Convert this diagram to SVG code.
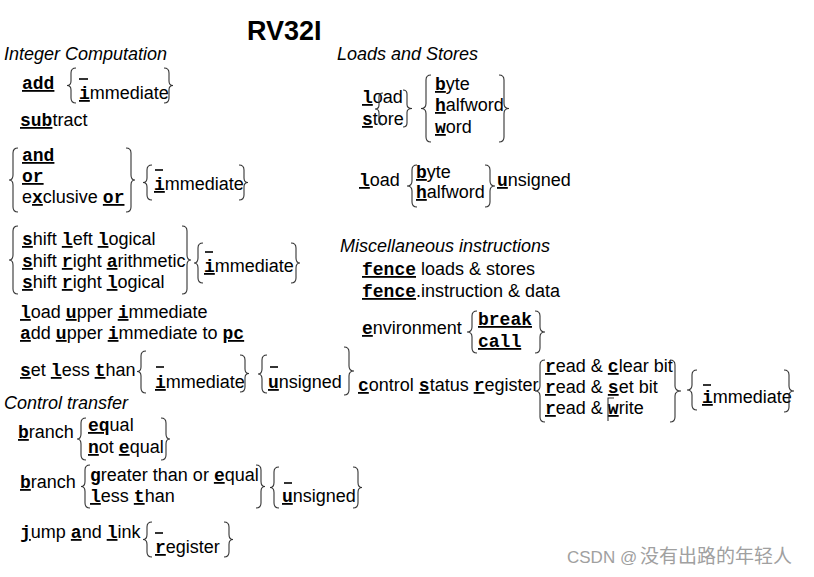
<svg xmlns="http://www.w3.org/2000/svg" width="814" height="577" viewBox="0 0 814 577">
<style>
text{font-family:"Liberation Sans",Arial,sans-serif;font-size:18px;fill:#000}
.it{font-style:italic}
.m{font-family:"Liberation Mono","Courier New",monospace;font-weight:bold}
.u{text-decoration:underline}
.title{font-weight:bold;font-size:27px}
.br{fill:none;stroke:#333;stroke-width:1.1}
.dash{stroke:#000;stroke-width:1.6}
.wm{fill:#a0a0a0}
</style>
<rect width="814" height="577" fill="#fff"/>
<text id="title" class="title" x="247" y="40">RV32I</text>

<g id="integer">
<text class="it" x="4" y="60">Integer Computation</text>
<text x="22" y="89"><tspan class="m u">add</tspan></text>
<text x="79" y="99"><tspan class="m u">i</tspan>mmediate</text>
<text x="20" y="126"><tspan class="m u">sub</tspan>tract</text>
<text x="22" y="161"><tspan class="m u">and</tspan></text>
<text x="22" y="182"><tspan class="m u">or</tspan></text>
<text x="22" y="203">e<tspan class="m u">x</tspan>clusive <tspan class="m u">or</tspan></text>
<text x="154" y="190"><tspan class="m u">i</tspan>mmediate</text>
<text x="22" y="245"><tspan class="m u">s</tspan>hift <tspan class="m u">l</tspan>eft <tspan class="m u">l</tspan>ogical</text>
<text x="22" y="267"><tspan class="m u">s</tspan>hift <tspan class="m u">r</tspan>ight <tspan class="m u">a</tspan>rithmetic</text>
<text x="22" y="288"><tspan class="m u">s</tspan>hift <tspan class="m u">r</tspan>ight <tspan class="m u">l</tspan>ogical</text>
<text x="204" y="272"><tspan class="m u">i</tspan>mmediate</text>
<text x="20" y="318"><tspan class="m u">l</tspan>oad <tspan class="m u">u</tspan>pper <tspan class="m u">i</tspan>mmediate</text>
<text x="20" y="339"><tspan class="m u">a</tspan>dd <tspan class="m u">u</tspan>pper <tspan class="m u">i</tspan>mmediate to <tspan class="m u">pc</tspan></text>
<text x="20" y="376"><tspan class="m u">s</tspan>et <tspan class="m u">l</tspan>ess <tspan class="m u">t</tspan>han</text>
<text x="155" y="388"><tspan class="m u">i</tspan>mmediate</text>
<text x="268" y="388"><tspan class="m u">u</tspan>nsigned</text>
</g>

<g id="control">
<text class="it" x="4" y="409">Control transfer</text>
<text x="18" y="438"><tspan class="m u">b</tspan>ranch</text>
<text x="88" y="431"><tspan class="m u">eq</tspan>ual</text>
<text x="88" y="453"><tspan class="m u">n</tspan>ot <tspan class="m u">e</tspan>qual</text>
<text x="20" y="488"><tspan class="m u">b</tspan>ranch</text>
<text x="90" y="481"><tspan class="m u">g</tspan>reater than or <tspan class="m u">e</tspan>qual</text>
<text x="90" y="502"><tspan class="m u">l</tspan>ess <tspan class="m u">t</tspan>han</text>
<text x="282" y="502"><tspan class="m u">u</tspan>nsigned</text>
<text x="20" y="538"><tspan class="m u">j</tspan>ump <tspan class="m u">a</tspan>nd <tspan class="m u">l</tspan>ink</text>
<text x="155" y="553"><tspan class="m u">r</tspan>egister</text>
</g>

<g id="loads">
<text class="it" x="337" y="60">Loads and Stores</text>
<text x="362" y="103"><tspan class="m u">l</tspan>oad</text>
<text x="362" y="125"><tspan class="m u">s</tspan>tore</text>
<text x="435" y="90"><tspan class="m u">b</tspan>yte</text>
<text x="435" y="111"><tspan class="m u">h</tspan>alfword</text>
<text x="435" y="133"><tspan class="m u">w</tspan>ord</text>
<text x="359" y="186"><tspan class="m u">l</tspan>oad</text>
<text x="416" y="178"><tspan class="m u">b</tspan>yte</text>
<text x="416" y="198"><tspan class="m u">h</tspan>alfword</text>
<text x="497" y="186"><tspan class="m u">u</tspan>nsigned</text>
</g>

<g id="misc">
<text class="it" x="340" y="252">Miscellaneous instructions</text>
<text x="362" y="275"><tspan class="m u">fence</tspan> loads &amp; stores</text>
<text x="362" y="297"><tspan class="m u">fence</tspan>.instruction &amp; data</text>
<text x="362" y="334"><tspan class="m u">e</tspan>nvironment</text>
<text x="478" y="325"><tspan class="m u">break</tspan></text>
<text x="478" y="347"><tspan class="m u">call</tspan></text>
<text x="358" y="391"><tspan class="m u">c</tspan>ontrol <tspan class="m u">s</tspan>tatus <tspan class="m u">r</tspan>egister</text>
<text x="545" y="372"><tspan class="m u">r</tspan>ead &amp; <tspan class="m u">c</tspan>lear bit</text>
<text x="545" y="393"><tspan class="m u">r</tspan>ead &amp; <tspan class="m u">s</tspan>et bit</text>
<text x="545" y="414"><tspan class="m u">r</tspan>ead &amp; <tspan class="m u">w</tspan>rite</text>
<text x="702" y="403"><tspan class="m u">i</tspan>mmediate</text>
<path class="br" d="M614 398 H608 V421"/>
</g>

<g id="braces">
<path class="br" d="M76 68 Q71 68 71 73 L71 81 Q71 85.5 67 85.5 Q71 85.5 71 90 L71 98 Q71 103 76 103"/>
<path class="br" d="M164 68 Q169 68 169 73 L169 81 Q169 85.5 173 85.5 Q169 85.5 169 90 L169 98 Q169 103 164 103"/>
<path class="br" d="M18 148 Q13 148 13 153 L13 175 Q13 180 9 180 Q13 180 13 185 L13 207 Q13 212 18 212"/>
<path class="br" d="M126 148 Q131 148 131 153 L131 175 Q131 180 135 180 Q131 180 131 185 L131 207 Q131 212 126 212"/>
<path class="br" d="M152 165 Q147 165 147 170 L147 178 Q147 182.5 143 182.5 Q147 182.5 147 187 L147 195 Q147 200 152 200"/>
<path class="br" d="M239 165 Q244 165 244 170 L244 178 Q244 182.5 248 182.5 Q244 182.5 244 187 L244 195 Q244 200 239 200"/>
<path class="br" d="M18 226 Q13 226 13 231 L13 255 Q13 260 9 260 Q13 260 13 265 L13 289 Q13 294 18 294"/>
<path class="br" d="M182 226 Q187 226 187 231 L187 255 Q187 260 191 260 Q187 260 187 265 L187 289 Q187 294 182 294"/>
<path class="br" d="M203 243 Q198 243 198 248 L198 258 Q198 263 194 263 Q198 263 198 268 L198 278 Q198 283 203 283"/>
<path class="br" d="M291 243 Q296 243 296 248 L296 258 Q296 263 300 263 Q296 263 296 268 L296 278 Q296 283 291 283"/>
<path class="br" d="M146 351 Q141 351 141 356 L141 367 Q141 371.5 137 371.5 Q141 371.5 141 376 L141 388 Q141 393 146 393"/>
<path class="br" d="M240 355 Q245 355 245 360 L245 369 Q245 373.5 249 373.5 Q245 373.5 245 378 L245 387 Q245 392 240 392"/>
<path class="br" d="M267 355 Q262 355 262 360 L262 369 Q262 374 258 374 Q262 374 262 379 L262 388 Q262 393 267 393"/>
<path class="br" d="M344 347 Q349 347 349 352 L349 366 Q349 371 354 371 Q349 371 349 376 L349 390 Q349 395 344 395"/>
<path class="br" d="M86 418 Q81 418 81 423 L81 434 Q81 439 77 439 Q81 439 81 444 L81 455 Q81 460 86 460"/>
<path class="br" d="M161 418 Q166 418 166 423 L166 434 Q166 439 170 439 Q166 439 166 444 L166 455 Q166 460 161 460"/>
<path class="br" d="M90 465 Q85 465 85 470 L85 481.5 Q85 486.5 81 486.5 Q85 486.5 85 491.5 L85 503 Q85 508 90 508"/>
<path class="br" d="M256 465 Q261 465 261 470 L261 481.5 Q261 486.5 265 486.5 Q261 486.5 261 491.5 L261 503 Q261 508 256 508"/>
<path class="br" d="M279 467 Q274 467 274 472 L274 482.5 Q274 487.5 270 487.5 Q274 487.5 274 492.5 L274 503 Q274 508 279 508"/>
<path class="br" d="M353 467 Q358 467 358 472 L358 482.5 Q358 487.5 362 487.5 Q358 487.5 358 492.5 L358 503 Q358 508 353 508"/>
<path class="br" d="M152 522 Q147 522 147 527 L147 534.5 Q147 539.5 143 539.5 Q147 539.5 147 544.5 L147 552 Q147 557 152 557"/>
<path class="br" d="M224 522 Q229 522 229 527 L229 534.5 Q229 539.5 233 539.5 Q229 539.5 229 544.5 L229 552 Q229 557 224 557"/>
<path class="br" d="M383 93 Q379 93 379 97 L379 105 Q379 109 375 109 Q379 109 379 113 L379 121 Q379 125 383 125"/>
<path class="br" d="M403 90 Q407 90 407 94 L407 104.5 Q407 108.5 412 108.5 Q407 108.5 407 112.5 L407 123 Q407 127 403 127"/>
<path class="br" d="M431 75 Q426 75 426 80 L426 103.5 Q426 108.5 421 108.5 Q426 108.5 426 113.5 L426 137 Q426 142 431 142"/>
<path class="br" d="M499 75 Q504 75 504 80 L504 103.5 Q504 108.5 509 108.5 Q504 108.5 504 113.5 L504 137 Q504 142 499 142"/>
<path class="br" d="M417 165 Q412 165 412 170 L412 181 Q412 186 407 186 Q412 186 412 191 L412 202 Q412 207 417 207"/>
<path class="br" d="M485 165 Q490 165 490 170 L490 181 Q490 186 495 186 Q490 186 490 191 L490 202 Q490 207 485 207"/>
<path class="br" d="M477 311 Q472 311 472 316 L472 327 Q472 332 467 332 Q472 332 472 337 L472 348 Q472 353 477 353"/>
<path class="br" d="M535 311 Q540 311 540 316 L540 327 Q540 332 545 332 Q540 332 540 337 L540 348 Q540 353 535 353"/>
<path class="br" d="M545 360 Q540 360 540 365 L540 386 Q540 391 535 391 Q540 391 540 396 L540 417 Q540 422 545 422"/>
<path class="br" d="M670 360 Q675 360 675 365 L675 386 Q675 391 681 391 Q675 391 675 396 L675 417 Q675 422 670 422"/>
<path class="br" d="M697 370 Q692 370 692 375 L692 385 Q692 390 687 390 Q692 390 692 395 L692 405 Q692 410 697 410"/>
<path class="br" d="M784 370 Q789 370 789 375 L789 386 Q789 391 794 391 Q789 391 789 396 L789 407 Q789 412 784 412"/>
</g>

<g id="dashes">
<line class="dash" x1="79" y1="79" x2="88" y2="79"/>
<line class="dash" x1="155" y1="170" x2="163" y2="170"/>
<line class="dash" x1="205" y1="252" x2="213" y2="252"/>
<line class="dash" x1="156" y1="367" x2="164" y2="367"/>
<line class="dash" x1="270" y1="367" x2="278" y2="367"/>
<line class="dash" x1="284" y1="483" x2="292" y2="483"/>
<line class="dash" x1="155" y1="533" x2="163" y2="533"/>
<line class="dash" x1="703" y1="385" x2="711" y2="385"/>
</g>

<text id="watermark" class="wm" y="563"><tspan x="567" font-size="17">CSDN @</tspan><tspan x="640" font-size="19" font-family="'Noto Sans CJK SC',sans-serif">没有出路的年轻人</tspan></text>
</svg>
